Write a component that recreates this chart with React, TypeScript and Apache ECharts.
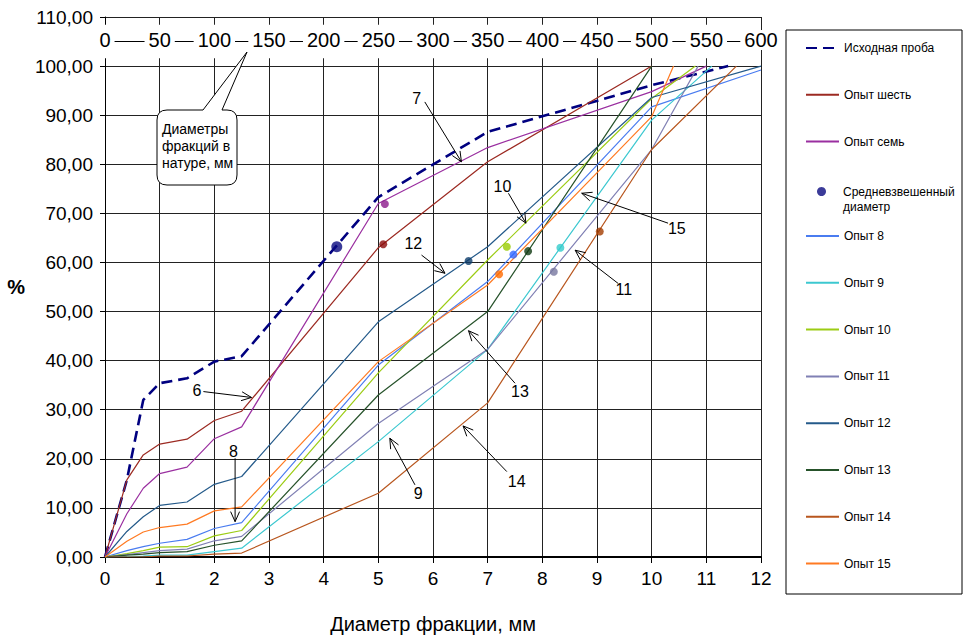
import React, { useEffect, useRef } from 'react';
import * as echarts from 'echarts';

const FONT = "'Liberation Sans', Arial, sans-serif";

// Sieve sizes (mm) common to all curves
const sieveSizes = [0, 0.4, 0.7, 1, 1.5, 2, 2.5, 5, 7, 10];

// Cumulative % passing at each sieve size
const ishodnaya = [0, 15.7, 32.0, 35.4, 36.4, 39.8, 40.9, 73.3, 86.6, 96.1];
const opyt6 = [0, 15.7, 20.8, 23.0, 24.0, 27.8, 29.7, 63.0, 80.5, 100];
const opyt7 = [0, 8.8, 14.0, 17.0, 18.3, 24.1, 26.5, 72.0, 83.4, 94.8];
const opyt8 = [0, 1.3, 2.1, 2.8, 3.6, 5.8, 7.0, 39.1, 56.1, 91.7];
const opyt9 = [0, 0.1, 0.2, 0.4, 0.4, 1.1, 1.8, 23.5, 42.3, 89.0];
const opyt10 = [0, 0.7, 1.3, 2.0, 2.1, 4.3, 5.4, 37.5, 60.5, 93.4];
const opyt11 = [0, 0.5, 0.9, 1.3, 1.6, 3.3, 4.2, 27.2, 42.3, 83.0];
const opyt12 = [0, 5.2, 8.2, 10.5, 11.2, 14.8, 16.4, 47.9, 63.2, 93.6];
const opyt13 = [0, 0.4, 0.6, 0.9, 1.1, 2.4, 3.3, 33.0, 50.0, 100];
const opyt14 = [0, 0, 0, 0.2, 0.2, 0.6, 0.8, 13.0, 31.4, 83.0];
const opyt15 = [0, 3.2, 5.1, 6.0, 6.7, 9.4, 10.2, 39.8, 55.4, 89.7];

// Final points beyond the 10 mm sieve (size, %)
const tailIshodnaya = [[11.4, 100]];
const tail6: number[][] = [];
const tail7 = [[11.0, 100]];
const tail8 = [[12, 99.2]];
const tail9 = [[11.1, 100]];
const tail10 = [[10.8, 100]];
const tail11 = [[10.85, 100]];
const tail12 = [[12, 100]];
const tail13: number[][] = [];
const tail14 = [[11.55, 100]];
const tail15 = [[10.4, 100]];

const seriesNames = ['Исходная проба', 'Опыт шесть', 'Опыт семь', 'Опыт 8', 'Опыт 9', 'Опыт 10', 'Опыт 11', 'Опыт 12', 'Опыт 13', 'Опыт 14', 'Опыт 15'];
const seriesValues = [ishodnaya, opyt6, opyt7, opyt8, opyt9, opyt10, opyt11, opyt12, opyt13, opyt14, opyt15];
const seriesTails = [tailIshodnaya, tail6, tail7, tail8, tail9, tail10, tail11, tail12, tail13, tail14, tail15];
const seriesColors = ['#000080', '#9c2a22', '#9a2fa0', '#4a7cf0', '#3cc8d0', '#9ccc14', '#8080b4', '#245a8a', '#26522a', '#b8561e', '#ff7a22'];

// Weighted mean diameter per curve (same order as seriesNames)
const meanDiameterX = [4.24, 5.09, 5.12, 7.47, 8.33, 7.35, 8.21, 6.65, 7.74, 9.05, 7.21];
const meanDiameterY = [63.2, 63.7, 71.9, 61.6, 63.0, 63.2, 58.1, 60.3, 62.3, 66.3, 57.6];
const meanDotColors = ['#0a0a80', '#8b0a0a', '#8b1a8b', '#3366ff', '#33cccc', '#99cc00', '#77779f', '#0e3d6b', '#0f3a12', '#a33c00', '#ff6a00'];

// Curve annotations: label, label anchor (mm, %), arrow from (mm, %) to (mm, %)
const annotationLabels = ['7', '10', '12', '15', '11', '6', '8', '9', '13', '14'];
const annotationAnchors = [[5.70, 93.4], [7.27, 75.4], [5.64, 63.9], [10.46, 66.9], [9.49, 54.4], [1.68, 34.0], [2.35, 21.4], [5.73, 13.0], [7.59, 33.7], [7.53, 15.3]];
const annotationArrows = [
  [5.85, 92.7, 6.52, 80.5],
  [7.38, 74.1, 7.70, 68.0],
  [5.79, 61.5, 6.22, 57.8],
  [10.30, 68.0, 8.72, 74.1],
  [9.39, 55.7, 8.60, 62.5],
  [1.80, 33.7, 2.68, 32.5],
  [2.38, 20.1, 2.38, 7.2],
  [5.67, 14.7, 5.21, 24.2],
  [7.50, 35.4, 6.65, 46.1],
  [7.35, 17.4, 6.55, 26.7],
];

const meanName = 'Средневзвешенный диаметр';

export default function App() {
  const ref = useRef<HTMLDivElement>(null);
  useEffect(() => {
    const calloutD = 'M10,0 L46,0 L90,-58 L65,0 L70,0 Q80,0 80,10 L80,65 Q80,75 70,75 L10,75 Q0,75 0,65 L0,10 Q0,0 10,0 Z';
    try {
      echarts.graphic.registerShape('callout', echarts.graphic.extendPath(calloutD, {}));
    } catch (e) { /* already registered */ }
    const chart = echarts.init(ref.current!, null, { renderer: 'svg' });

    const lineSeries = seriesNames.map((name, i) => ({
      type: 'line',
      name,
      data: [...sieveSizes.map((x, j) => [x, seriesValues[i][j]]), ...seriesTails[i]],
      symbol: 'none',
      showSymbol: false,
      lineStyle: { color: seriesColors[i], width: i === 0 ? 2.6 : 1.2, type: i === 0 ? [11, 6] : 'solid' },
      itemStyle: { color: seriesColors[i] },
      z: 3,
    }));

    const option: any = {
      animation: false,
      grid: { left: 105, right: 202, top: 17, bottom: 83, containLabel: false },
      xAxis: [
        {
          type: 'value', min: 0, max: 12, interval: 1, position: 'bottom',
          name: 'Диаметр фракции, мм', nameLocation: 'middle', nameGap: 57,
          nameTextStyle: { fontSize: 20, color: '#000', fontFamily: FONT },
          axisLine: { onZero: false, lineStyle: { color: '#000', width: 2 } },
          axisTick: { show: true, length: 6, lineStyle: { color: '#000' } },
          axisLabel: { color: '#000', fontSize: 19, fontFamily: FONT, margin: 12 },
          splitLine: { show: true, lineStyle: { color: '#222', width: 1 } },
        },
        {
          type: 'value', min: 0, max: 600, interval: 50, position: 'top', offset: -24, z: 5,
          axisLine: { show: true, onZero: false, lineStyle: { color: '#000', width: 1 } },
          axisTick: { show: false },
          splitLine: { show: false },
          axisLabel: { color: '#000', fontSize: 20, fontFamily: FONT, margin: -9, backgroundColor: '#fff', padding: [0, 4] },
        },
      ],
      yAxis: {
        type: 'value', min: 0, max: 110, interval: 10,
        name: '%', nameLocation: 'middle', nameRotate: 0, nameGap: 80,
        nameTextStyle: { fontSize: 20, fontWeight: 'bold', color: '#000', fontFamily: FONT },
        axisLine: { show: true, lineStyle: { color: '#000', width: 1 } },
        axisTick: { show: true, length: 5, lineStyle: { color: '#000' } },
        axisLabel: { color: '#000', fontSize: 19, fontFamily: FONT, margin: 12, formatter: (v: number) => v.toFixed(2).replace('.', ',') },
        splitLine: { show: true, lineStyle: { color: '#222', width: 1 } },
      },
      legend: [
        {
          data: seriesNames.slice(0, 3), orient: 'vertical', left: 805, top: 41, padding: 0,
          itemWidth: 33, itemHeight: 14, itemGap: 32.8,
          lineStyle: { width: 2 },
          itemStyle: { opacity: 0 },
          textStyle: { fontSize: 12, color: '#000', fontFamily: FONT, lineHeight: 14 },
        },
        {
          data: [meanName], orient: 'vertical', left: 817, top: 169, padding: 0,
          itemWidth: 9, itemHeight: 9,
          formatter: () => ' \nСредневзвешенный\nдиаметр',
          textStyle: { fontSize: 12, color: '#000', fontFamily: FONT, lineHeight: 15, padding: [0, 0, 0, 12] },
        },
        {
          data: seriesNames.slice(3), orient: 'vertical', left: 805, top: 229, padding: 0,
          itemWidth: 33, itemHeight: 14, itemGap: 32.8,
          lineStyle: { width: 2 },
          itemStyle: { opacity: 0 },
          textStyle: { fontSize: 12, color: '#000', fontFamily: FONT, lineHeight: 14 },
        },
      ],
      graphic: [
        { type: 'rect', shape: { x: 786, y: 30, width: 176, height: 564 }, style: { fill: 'transparent', stroke: '#000', lineWidth: 1 }, z: 0, silent: true },
        { type: 'callout', x: 157, y: 110, style: { fill: '#fff', stroke: '#000', lineWidth: 1 }, z: 50, silent: true },
        { type: 'text', x: 162, y: 120, style: { text: 'Диаметры\nфракций в\nнатуре, мм', font: `14px ${FONT}`, fill: '#000', lineHeight: 17 }, z: 51, silent: true },
      ],
      series: [
        {
          type: 'custom',
          name: 'annotations',
          silent: true,
          z: 6,
          encode: { x: 0, y: 1 },
          data: annotationAnchors.map((a, i) => [a[0], a[1], ...annotationArrows[i]]),
          renderItem: (params: any, api: any) => {
            const i = params.dataIndex;
            const t = api.coord([api.value(0), api.value(1)]);
            const a = api.coord([api.value(2), api.value(3)]);
            const b = api.coord([api.value(4), api.value(5)]);
            const ang = Math.atan2(b[1] - a[1], b[0] - a[0]);
            const L = 11, w = 0.42;
            const p1 = [b[0] - L * Math.cos(ang - w), b[1] - L * Math.sin(ang - w)];
            const p2 = [b[0] - L * Math.cos(ang + w), b[1] - L * Math.sin(ang + w)];
            return {
              type: 'group',
              children: [
                { type: 'line', shape: { x1: a[0], y1: a[1], x2: b[0], y2: b[1] }, style: { stroke: '#000', lineWidth: 1 } },
                { type: 'polyline', shape: { points: [p1, b, p2] }, style: { stroke: '#000', fill: 'none', lineWidth: 1 } },
                { type: 'text', x: t[0], y: t[1], style: { text: annotationLabels[i], fill: '#000', font: `16px ${FONT}`, align: 'center', verticalAlign: 'middle' } },
              ],
            };
          },
          markArea: {
            silent: true,
            itemStyle: { color: '#fff', opacity: 1 },
            data: [[{ yAxis: 101.6 }, { yAxis: 108.4 }]],
          },
        },
        ...lineSeries,
        {
          type: 'scatter',
          name: meanName,
          symbol: 'circle',
          itemStyle: { color: '#0a0a80' },
          z: 4,
          data: meanDiameterX.map((x, i) => ({
            value: [x, meanDiameterY[i]],
            symbolSize: i === 0 ? 11 : 8,
            itemStyle: { color: meanDotColors[i] },
          })),
        },
      ],
    };
    chart.setOption(option);
    return () => chart.dispose();
  }, []);
  return <div ref={ref} style={{ width: 963, height: 640, position: 'absolute', left: 0, top: 0 }} />;
}
